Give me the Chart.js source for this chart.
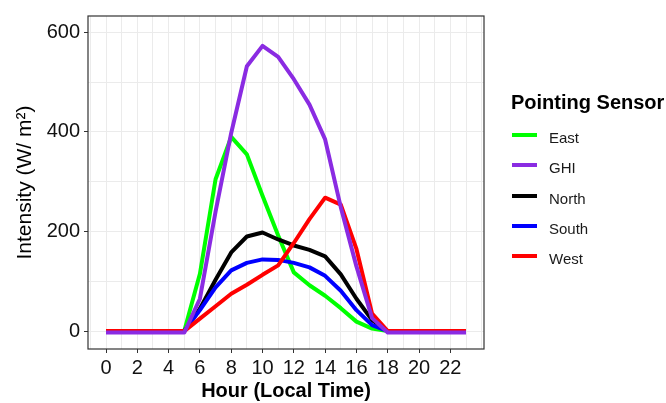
<!DOCTYPE html>
<html>
<head>
<meta charset="utf-8">
<script src="https://cdn.jsdelivr.net/npm/chart.js@4"></script>
<style>
  body { margin: 0; background: #fff; overflow: hidden; }
  #wrap { position: relative; width: 666px; height: 403px; overflow: hidden; font-family: "Liberation Sans", Arial, sans-serif; }
  #legend-title { position: absolute; left: 511px; top: 91px; font-size: 20px; font-weight: bold; line-height: 22px; white-space: nowrap; color: #000; }
  .sw { position: absolute; left: 512px; width: 25px; height: 4.5px; }
  .lab { position: absolute; left: 549px; font-size: 15px; line-height: 17px; color: #1a1a1a; }
</style>
</head>
<body>
<div id="wrap">
  <canvas id="line-chart" width="666" height="403"></canvas>
  <div id="legend-title">Pointing Sensor</div>
</div>
<script>
let hours = [0,1,2,3,4,5,6,7,8,9,10,11,12,13,14,15,16,17,18,19,20,21,22,23];

let sensorNames = ['East', 'GHI', 'North', 'South', 'West'];
let sensorColors = ['#00ff00', '#8a2be2', '#000000', '#0000ff', '#ff0000'];
// drawing order: GHI on top, East at the bottom
let sensorOrder = [4, 0, 3, 2, 1];

let eastVals  = [0,0,0,0,0,0,115,305,390,355,272,192,118,92,71,46,19,5,0,0,0,0,0,0];
let ghiVals   = [-3,-3,-3,-3,-3,-3,65,240,398,532,573,551,506,455,385,249,130,26,-3,-3,-3,-3,-3,-3];
let northVals = [0,0,0,0,0,0,45,103,158,190,198,184,172,163,150,114,65,22,0,0,0,0,0,0];
let southVals = [0,0,0,0,0,0,42,88,122,137,144,143,137,128,111,81,42,12,0,0,0,0,0,0];
let westVals  = [0,0,0,0,0,0,25,50,75,93,113,132,177,225,268,254,165,35,0,0,0,0,0,0];

let xTickLabels = [0,2,4,6,8,10,12,14,16,18,20,22];
let yTickLabels = [0,200,400,600];

let allVals = [eastVals, ghiVals, northVals, southVals, westVals];

// legend rows (swatch centre y)
let legendY = [135, 165, 196, 226, 256];
let wrap = document.getElementById('wrap');
sensorNames.forEach((name, i) => {
  let sw = document.createElement('div');
  sw.className = 'sw';
  sw.style.top = (legendY[i] - 2.25) + 'px';
  sw.style.background = sensorColors[i];
  wrap.append(sw);
  let lab = document.createElement('div');
  lab.className = 'lab';
  lab.style.top = (legendY[i] + 2.5 - 8.3) + 'px';
  lab.textContent = name;
  wrap.append(lab);
});

const panelBorder = {
  id: 'panelBorder',
  afterDraw(chart) {
    let a = chart.chartArea;
    let ctx = chart.ctx;
    ctx.save();
    ctx.strokeStyle = '#333333';
    ctx.lineWidth = 1.2;
    ctx.strokeRect(a.left, a.top, a.right - a.left, a.bottom - a.top);
    ctx.restore();
  }
};

let renderChart = () => {
  let el = document.getElementById('line-chart');
  let datasets = sensorNames.map((name, i) => ({
    label: name,
    data: hours.map((h, k) => ({x: h, y: allVals[i][k]})),
    borderColor: sensorColors[i],
    backgroundColor: sensorColors[i],
    borderWidth: 4,
    borderJoinStyle: 'round',
    pointRadius: 0,
    tension: 0,
    order: sensorOrder[i],
  }));
  new Chart(el, {
    type: 'line',
    data: { datasets: datasets },
    options: {
      responsive: false,
      animation: false,
      layout: { padding: { left: 0, right: 182, top: 12, bottom: 0 } },
      plugins: { legend: { display: false }, tooltip: { enabled: false } },
      scales: {
        x: {
          type: 'linear',
          min: -1.15,
          max: 24.15,
          afterFit: (s) => { s.height = 54; },
          border: { display: false },
          grid: {
            color: '#ebebeb',
            lineWidth: 1,
            tickLength: 4,
            tickColor: (c) => xTickLabels.includes(c.tick.value) ? '#333333' : 'rgba(0,0,0,0)',
          },
          ticks: {
            stepSize: 1,
            includeBounds: false,
            autoSkip: false,
            maxRotation: 0,
            padding: 3,
            color: '#111111',
            font: { family: 'Liberation Sans', size: 20 },
            callback: (v) => xTickLabels.includes(v) ? String(v) : '',
          },
          title: {
            display: true,
            text: 'Hour (Local Time)',
            color: '#000',
            padding: { top: 0, bottom: 0 },
            font: { family: 'Liberation Sans', size: 20, weight: 'bold' },
          },
        },
        y: {
          min: -36,
          max: 633,
          afterFit: (s) => { s.width = 88; },
          border: { display: false },
          grid: {
            color: '#ebebeb',
            lineWidth: 1,
            tickLength: 4,
            tickColor: (c) => yTickLabels.includes(c.tick.value) ? '#333333' : 'rgba(0,0,0,0)',
          },
          ticks: {
            stepSize: 100,
            includeBounds: false,
            autoSkip: false,
            padding: 4,
            color: '#111111',
            font: { family: 'Liberation Sans', size: 20 },
            callback: (v) => yTickLabels.includes(v) ? String(v) : '',
          },
          title: {
            display: true,
            text: 'Intensity (W/ m²)',
            color: '#000',
            padding: { top: 13, bottom: 0 },
            font: { family: 'Liberation Sans', size: 21 },
          },
        },
      },
    },
    plugins: [panelBorder],
  });
};
renderChart();
</script>
</body>
</html>
